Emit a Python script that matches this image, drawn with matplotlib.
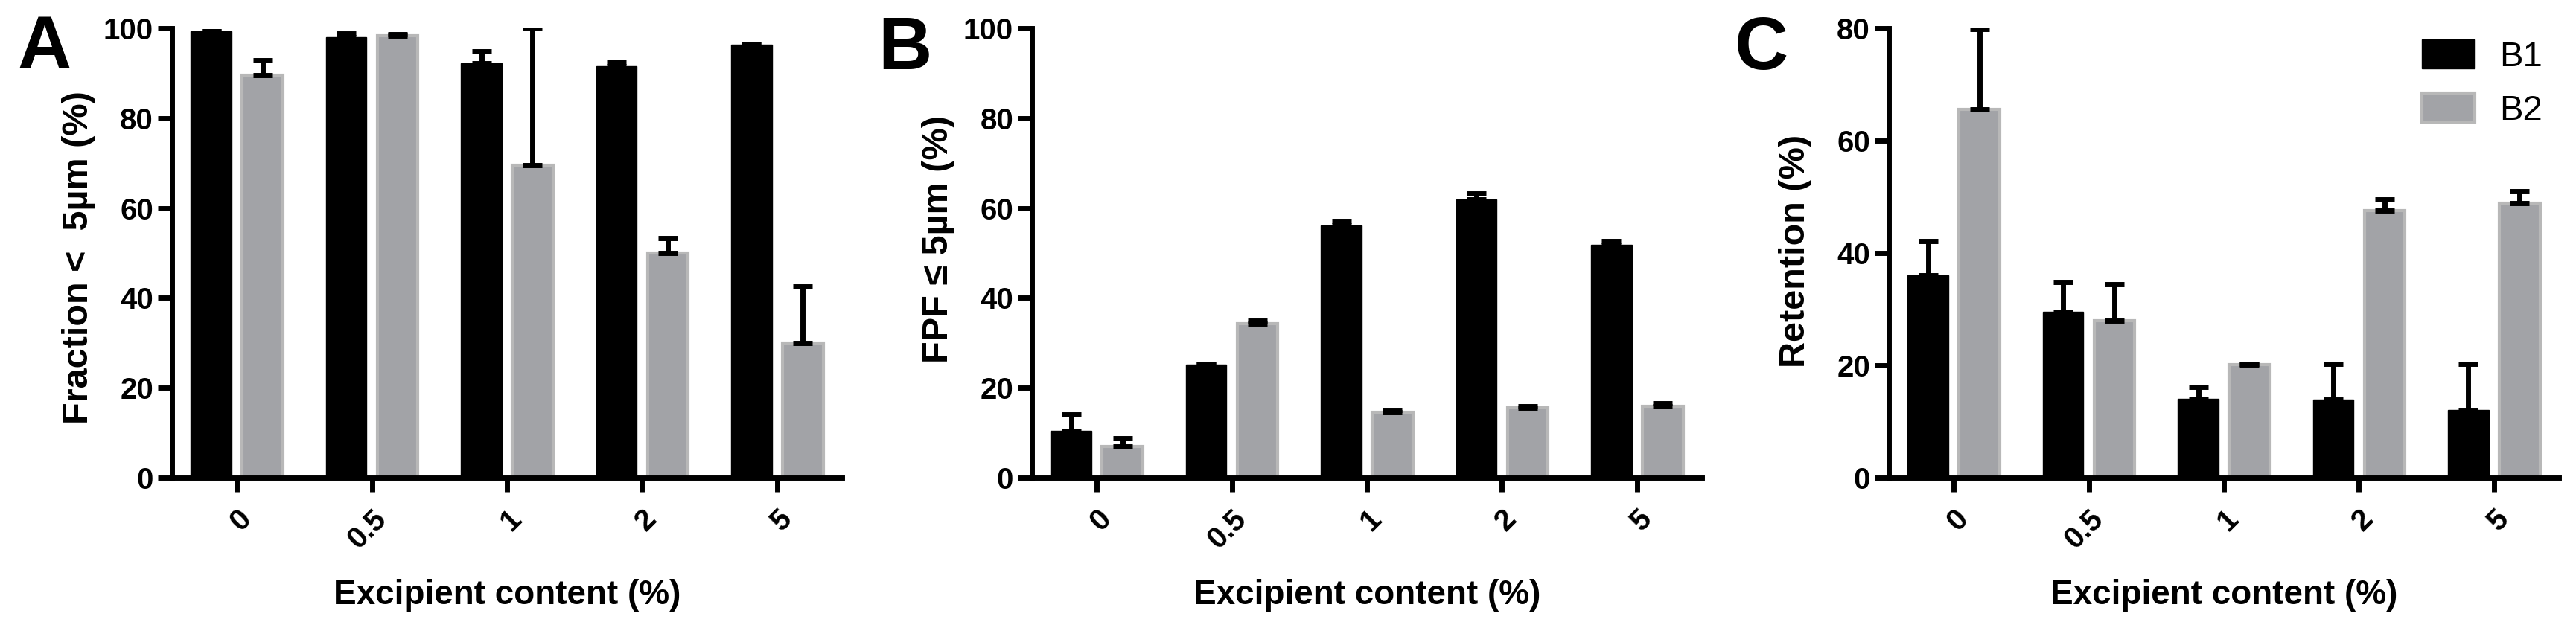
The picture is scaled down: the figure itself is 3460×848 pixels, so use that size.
import numpy as np
import matplotlib
matplotlib.use("Agg")
import matplotlib.pyplot as plt
from matplotlib.patches import Patch

plt.rcParams['font.family'] = ['Liberation Sans', 'DejaVu Sans']

# --- data (mean, upper SD) ---
categories = ["0", "0.5", "1", "2", "5"]
series = ["B1", "B2"]

frac_b1 = [99.3, 98.0, 92.2, 91.6, 96.4]
frac_b1_sd = [0.0, 0.8, 2.6, 0.9, 0.0]
frac_b2 = [89.6, 98.4, 69.6, 50.0, 30.0]
frac_b2_sd = [3.2, 0.3, 30.6, 3.3, 12.6]

fpf_b1 = [10.5, 25.2, 56.2, 62.0, 51.9]
fpf_b1_sd = [3.6, 0.2, 1.0, 1.2, 0.7]
fpf_b2 = [6.9, 34.3, 14.6, 15.5, 15.9]
fpf_b2_sd = [1.9, 0.6, 0.4, 0.4, 0.6]

ret_b1 = [36.0, 29.5, 14.0, 13.9, 12.0]
ret_b1_sd = [6.1, 5.4, 2.2, 6.4, 8.3]
ret_b2 = [65.6, 27.9, 20.1, 47.5, 48.9]
ret_b2_sd = [14.3, 6.6, 0.2, 2.1, 2.1]

panels = [
    ("A", "Fraction <  5\u00b5m (%)", 100, [0, 20, 40, 60, 80, 100],
     frac_b1, frac_b1_sd, frac_b2, frac_b2_sd),
    ("B", "FPF \u2264 5\u00b5m (%)", 100, [0, 20, 40, 60, 80, 100],
     fpf_b1, fpf_b1_sd, fpf_b2, fpf_b2_sd),
    ("C", "Retention (%)", 80, [0, 20, 40, 60, 80],
     ret_b1, ret_b1_sd, ret_b2, ret_b2_sd),
]

BLACK = "#000000"
GRAY = "#a2a3a7"
GRAY_EDGE = "#b8b8b8"

W, H = 3460, 848
fig = plt.figure(figsize=(W / 100, H / 100), dpi=100)

lefts = [231, 1386, 2537]
ylab_y = [0.49, 0.53, 0.505]
ax_w = 900
ax_top, ax_bot = 38, 642

x = np.arange(len(categories))
bw = 0.30
off = 0.19

for i, (letter, ylab, ymax, yticks, b1, b1sd, b2, b2sd) in enumerate(panels):
    ax = fig.add_axes([lefts[i] / W, 1 - ax_bot / H, ax_w / W, (ax_bot - ax_top) / H])
    ax.bar(x - off, b1, bw, color=BLACK, edgecolor=BLACK, linewidth=1, zorder=2)
    ax.bar(x + off, b2, bw, color=GRAY, edgecolor=GRAY_EDGE, linewidth=3, zorder=2)
    for xs, m, sd in [(x - off, b1, b1sd), (x + off, b2, b2sd)]:
        ax.errorbar(xs, m, yerr=[np.zeros(len(sd)), sd], fmt="none", ecolor="black",
                    elinewidth=5, capsize=9.5, capthick=5, zorder=3)

    ax.set_xlim(-0.48, 4.48)
    ax.set_ylim(0, ymax)
    ax.set_yticks(yticks)
    ax.set_xticks(x)
    ax.set_xticklabels(categories, rotation=45, ha="right", rotation_mode="anchor",
                       fontsize=29, fontweight="bold")
    ax.set_yticklabels([str(t) for t in yticks], fontsize=29, fontweight="bold")
    for s in ["top", "right"]:
        ax.spines[s].set_visible(False)
    for s in ["left", "bottom"]:
        ax.spines[s].set_linewidth(5)
    ax.tick_params(axis="both", width=5, length=14, pad=4)
    ax.tick_params(axis="x", pad=12)

    ax.set_ylabel(ylab, fontsize=35, fontweight="bold")
    ax.yaxis.set_label_coords(-0.114, ylab_y[i])
    ax.set_xlabel("Excipient content (%)", fontsize=33, fontweight="bold")
    ax.xaxis.set_label_coords(0.5, -0.225)
    ax.xaxis.label.set_va("top")

    fig.text((lefts[i] - 207) / W, 1 - 20 / H, letter, fontsize=72, fontweight="bold",
             va="top", ha="left")

    if letter == "C":
        handles = [Patch(facecolor=BLACK, edgecolor=BLACK),
                   Patch(facecolor=GRAY, edgecolor=GRAY_EDGE, linewidth=3)]
        ax.legend(handles, series, loc="upper left", bbox_to_anchor=(0.796, 0.975),
                  frameon=False, fontsize=34, handlelength=1.5, handleheight=0.9,
                  handletextpad=0.7, labelspacing=0.55, borderpad=0, borderaxespad=0)

fig.savefig("out.png", dpi=100)
